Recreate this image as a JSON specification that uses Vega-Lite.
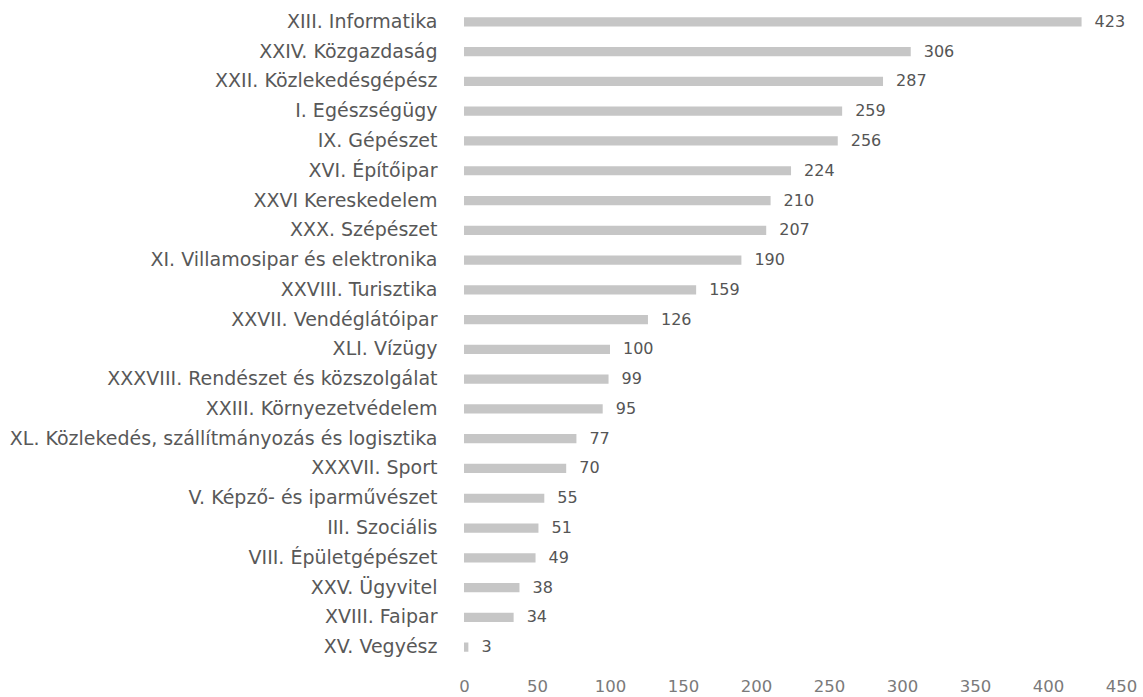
{
  "$schema": "https://vega.github.io/schema/vega-lite/v6.json",
  "width": 657,
  "height": 655,
  "autosize": {"type": "none"},
  "padding": {"left": 464, "top": 7, "right": 22, "bottom": 35},
  "background": "white",
  "config": {"view": {"stroke": null}, "font": "DejaVu Sans"},
  "data": {"values": [
    {"name": "XIII. Informatika", "value": 423},
    {"name": "XXIV. Közgazdaság", "value": 306},
    {"name": "XXII. Közlekedésgépész", "value": 287},
    {"name": "I. Egészségügy", "value": 259},
    {"name": "IX. Gépészet", "value": 256},
    {"name": "XVI. Építőipar", "value": 224},
    {"name": "XXVI Kereskedelem", "value": 210},
    {"name": "XXX. Szépészet", "value": 207},
    {"name": "XI. Villamosipar és elektronika", "value": 190},
    {"name": "XXVIII. Turisztika", "value": 159},
    {"name": "XXVII. Vendéglátóipar", "value": 126},
    {"name": "XLI. Vízügy", "value": 100},
    {"name": "XXXVIII. Rendészet és közszolgálat", "value": 99},
    {"name": "XXIII. Környezetvédelem", "value": 95},
    {"name": "XL. Közlekedés, szállítmányozás és logisztika", "value": 77},
    {"name": "XXXVII. Sport", "value": 70},
    {"name": "V. Képző- és iparművészet", "value": 55},
    {"name": "III. Szociális", "value": 51},
    {"name": "VIII. Épületgépészet", "value": 49},
    {"name": "XXV. Ügyvitel", "value": 38},
    {"name": "XVIII. Faipar", "value": 34},
    {"name": "XV. Vegyész", "value": 3}
  ]},
  "encoding": {
    "y": {
      "field": "name", "type": "nominal", "sort": null, "title": null,
      "scale": {"paddingInner": 0.69, "paddingOuter": 0.345},
      "axis": {"domain": false, "ticks": false, "labelPadding": 27, "labelFontSize": 19, "labelColor": "#585858", "labelLimit": 500}
    },
    "x": {
      "field": "value", "type": "quantitative", "title": null,
      "scale": {"domain": [0, 450], "nice": false},
      "axis": {"values": [0, 50, 100, 150, 200, 250, 300, 350, 400, 450], "domain": false, "ticks": false, "grid": false, "labelPadding": 16, "labelFontSize": 16.5, "labelColor": "#7a7a7a", "labelFlush": false}
    }
  },
  "layer": [
    {"mark": {"type": "bar", "color": "#c6c6c6"}},
    {"mark": {"type": "text", "align": "left", "baseline": "middle", "dx": 13, "fontSize": 16, "color": "#555555"}, "encoding": {"text": {"field": "value", "type": "quantitative"}}}
  ]
}
